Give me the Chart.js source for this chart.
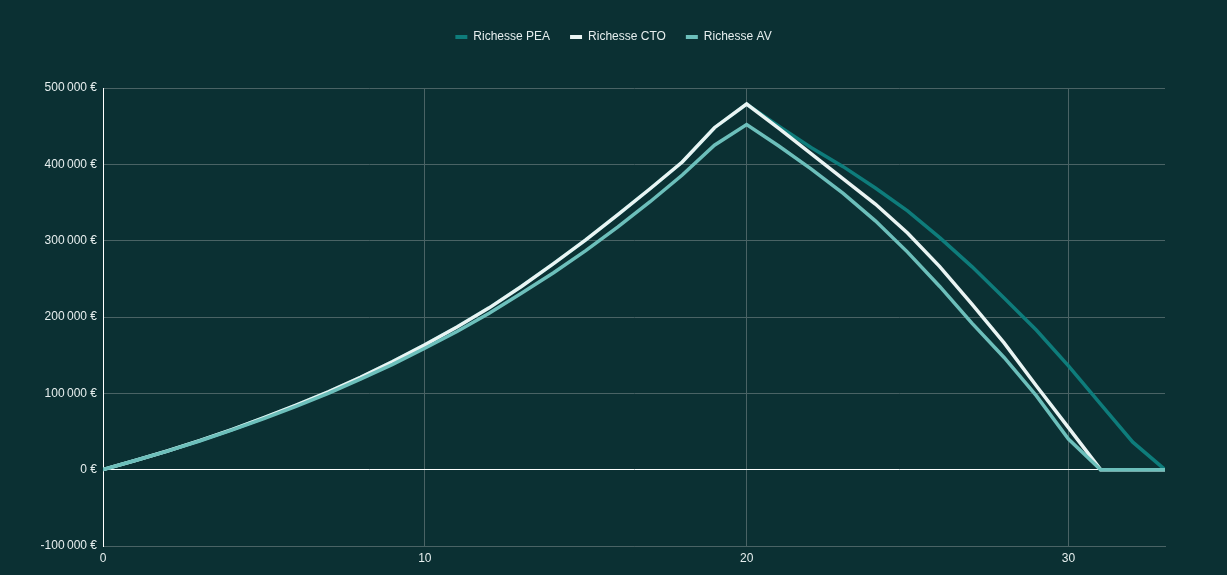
<!DOCTYPE html>
<html>
<head>
<meta charset="utf-8">
<script src="https://cdn.jsdelivr.net/npm/chart.js@4"></script>
<style>
  html, body { margin: 0; padding: 0; background: #0b3033; }
  #wrap { width: 1227px; height: 575px; }
</style>
</head>
<body>
<div id="wrap"><canvas id="richesseChart"></canvas></div>
<script>
const years = [0,1,2,3,4,5,6,7,8,9,10,11,12,13,14,15,16,17,18,19,20,21,22,23,24,25,26,27,28,29,30,31,32,33];

const richessePEA = [0,12000,24500,38000,52500,68000,84500,102000,121000,141500,
  163500,187000,212000,240000,270000,301000,334000,368000,403000,448000,
  479000,450000,422000,397000,369000,339000,304000,266000,225000,183000,
  136000,86000,36000,0];

const richesseCTO = [0,12000,24500,38000,52500,68000,84500,102000,121000,141500,
  163500,187000,212000,240000,270000,301000,334000,368000,403000,448000,
  479000,447000,414000,381000,348000,310000,266000,217000,166000,110000,
  55000,0,0,0];

const richesseAV = [0,12000,24300,37600,51800,67000,83000,100000,118500,138000,
  159000,181000,205000,231000,258000,287000,318000,351000,386000,425000,
  452000,424000,394000,362000,326000,285000,240000,192000,147000,97000,
  40000,0,0,0];

const yTicks = [-100000, 0, 100000, 200000, 300000, 400000, 500000];

const textColor = "#e6eeee";
const gridColor = "#4a6365";
const euro = new Intl.NumberFormat("fr-FR", { style: "currency", currency: "EUR", maximumFractionDigits: 0 });

function points(arr) {
  return years.map((x, i) => ({ x: x, y: arr[i] }));
}

Chart.defaults.font.family = "'Liberation Sans', Arial, sans-serif";
Chart.defaults.font.size = 12;
Chart.defaults.color = textColor;

// push the plot area down below the legend
const legendMargin = {
  id: "legendMargin",
  beforeInit(chart) {
    const fit = chart.legend.fit;
    chart.legend.fit = function () {
      fit.bind(chart.legend)();
      this.height += 35;
    };
  }
};

new Chart(document.getElementById("richesseChart").getContext("2d"), {
  type: "line",
  data: {
    datasets: [
      { label: "Richesse PEA", data: points(richessePEA), borderColor: "#0e7c7b", backgroundColor: "#0e7c7b", order: 2 },
      { label: "Richesse CTO", data: points(richesseCTO), borderColor: "#eaf4f3", backgroundColor: "#eaf4f3", order: 1 },
      { label: "Richesse AV", data: points(richesseAV), borderColor: "#6cbfbb", backgroundColor: "#6cbfbb", order: 0 }
    ]
  },
  options: {
    responsive: true,
    maintainAspectRatio: false,
    animation: false,
    layout: { padding: { top: 11, left: 0, right: 0, bottom: 0 } },
    elements: {
      line: { borderWidth: 3.5, tension: 0 },
      point: { radius: 0, hoverRadius: 0 }
    },
    plugins: {
      tooltip: { enabled: false },
      legend: {
        position: "top",
        labels: {
          boxWidth: 12,
          boxHeight: 4,
          padding: 20,
          color: textColor,
          sort: (a, b) => a.datasetIndex - b.datasetIndex,
          generateLabels: (chart) =>
            Chart.defaults.plugins.legend.labels.generateLabels(chart).map(l => ({ ...l, lineWidth: 0 }))
        }
      }
    },
    scales: {
      x: {
        type: "linear",
        min: 0,
        max: 33,
        ticks: { stepSize: 10, includeBounds: false, padding: 5, color: textColor },
        grid: { color: (c) => c.tick && c.tick.value === 0 ? "#ffffff" : gridColor, drawTicks: false },
        border: { color: gridColor },
        afterFit: (scale) => { scale.height = 29; }
      },
      y: {
        min: -100000,
        max: 500000,
        afterBuildTicks: (scale) => { scale.ticks = yTicks.map(v => ({ value: v })); },
        ticks: { padding: 6, color: textColor, callback: (v) => euro.format(v) },
        grid: { color: (c) => c.tick && c.tick.value === 0 ? "#ffffff" : gridColor, drawTicks: false },
        border: { color: "#ffffff" },
        afterFit: (scale) => { scale.width = 103; }
      },
      // empty right-hand axis, only reserves space so the legend stays centred on the page
      yRight: {
        position: "right",
        min: -100000,
        max: 500000,
        ticks: { display: false },
        grid: { display: false, drawTicks: false },
        border: { display: false },
        afterFit: (scale) => { scale.width = 62; }
      }
    }
  },
  plugins: [legendMargin]
});
</script>
</body>
</html>
